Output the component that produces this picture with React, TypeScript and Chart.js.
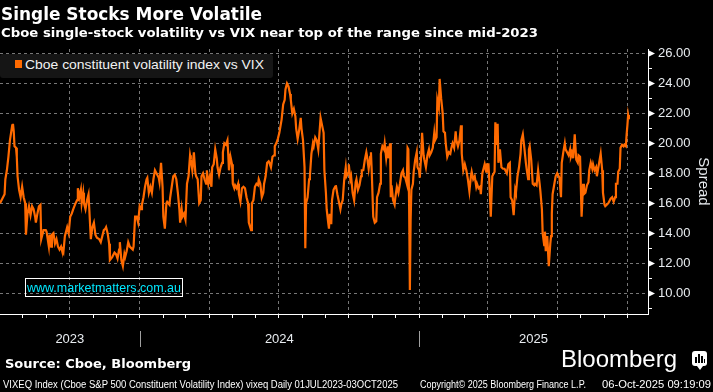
import React, { useEffect, useLayoutEffect, useRef } from 'react';
import { Chart, registerables } from 'chart.js';

Chart.register(...registerables);

// x values are calendar days counted from START (2023-07-01)
const START = Date.UTC(2023, 6, 1);
const dayOf = (y: number, m: number, d = 1) => (Date.UTC(y, m, d) - START) / 86400000;

const days2023 = [1, 5, 7, 8, 10, 12, 14, 17, 18, 19, 20, 22, 23, 24, 26, 28, 30, 32, 34, 35, 37, 39, 41, 43, 45, 47, 48, 50, 52, 54, 55, 57, 58, 61, 62, 65, 66, 68, 69, 71, 73, 75, 77, 79, 81, 82, 84, 86, 88, 89, 91, 93, 95, 97, 100, 102, 103, 105, 107, 108, 110, 111, 113, 115, 117, 118, 120, 122, 124, 126, 128, 131, 133, 135, 137, 139, 140, 142, 144, 145, 148, 151, 153, 155, 157, 158, 160, 162, 164, 165, 167, 169, 171, 173, 175, 176, 178, 180, 182];
const spread2023 = [16.0, 16.4, 16.6, 17.6, 18.2, 19.1, 20.2, 21.2, 21.3, 20.8, 19.8, 19.7, 19.1, 17.8, 16.9, 16.4, 17.1, 16.4, 16.0, 13.9, 15.3, 15.8, 15.2, 15.8, 15.6, 15.1, 14.7, 15.3, 15.8, 15.9, 13.6, 14.0, 14.2, 14.2, 14.1, 13.1, 13.9, 13.1, 13.9, 14.0, 13.3, 13.6, 13.1, 12.9, 13.1, 12.9, 12.7, 13.8, 14.2, 14.4, 14.0, 15.1, 15.3, 15.6, 16.0, 16.2, 17.0, 16.4, 16.9, 16.0, 16.7, 16.0, 15.6, 16.2, 16.6, 15.6, 13.6, 14.4, 14.7, 13.9, 13.7, 13.6, 13.4, 13.8, 14.2, 14.3, 14.4, 14.0, 13.3, 12.2, 12.4, 12.7, 12.6, 12.3, 12.9, 13.4, 12.2, 11.8, 12.6, 12.4, 12.8, 13.4, 13.1, 13.0, 12.9, 13.1, 15.1, 15.1, 14.7];

const days2024 = [184, 186, 187, 189, 191, 193, 194, 196, 198, 200, 202, 204, 206, 209, 210, 212, 214, 215, 217, 219, 220, 223, 224, 226, 228, 230, 232, 234, 236, 237, 239, 240, 242, 244, 246, 248, 250, 251, 253, 255, 257, 258, 260, 262, 264, 265, 267, 269, 271, 272, 274, 276, 278, 279, 281, 283, 285, 286, 288, 290, 292, 293, 295, 297, 299, 300, 301, 303, 305, 306, 308, 309, 311, 313, 314, 316, 318, 320, 322, 324, 326, 327, 330, 331, 333, 335, 337, 339, 340, 342, 344, 346, 347, 349, 351, 353, 354, 356, 358, 360, 361, 363, 365, 367, 368, 370, 372, 374, 375, 377, 379, 381, 382, 384, 386, 388, 389, 391, 393, 395, 396, 398, 400, 401, 402, 404, 406, 407, 409, 411, 412, 414, 416, 418, 419, 421, 423, 425, 426, 428, 429, 431, 432, 433, 435, 436, 438, 440, 441, 443, 445, 447, 448, 450, 452, 454, 455, 457, 458, 460, 461, 463, 465, 467, 468, 470, 472, 474, 475, 477, 479, 481, 482, 484, 486, 487, 488, 490, 492, 494, 495, 497, 499, 500, 502, 504, 505, 507, 509, 510, 512, 513, 514, 516, 518, 519, 521, 523, 525, 527, 529, 530, 532, 534, 535, 536, 537, 538, 539, 540, 542, 543, 545, 547, 548];
const spread2024 = [15.8, 15.6, 15.9, 16.4, 17.1, 17.6, 17.7, 16.7, 17.1, 16.7, 17.6, 18.2, 18.0, 17.7, 17.4, 18.7, 17.1, 15.1, 14.3, 16.0, 16.1, 15.9, 16.4, 17.1, 17.8, 17.9, 17.6, 16.7, 15.6, 14.7, 15.6, 15.1, 15.3, 14.9, 17.3, 17.8, 19.2, 18.9, 18.2, 19.4, 18.0, 17.8, 17.6, 16.0, 16.2, 17.8, 18.0, 17.6, 17.3, 18.2, 17.3, 17.8, 17.1, 18.4, 18.6, 19.6, 19.0, 18.4, 17.9, 18.4, 18.7, 19.4, 20.0, 19.9, 20.2, 19.3, 18.2, 19.1, 18.6, 17.3, 17.0, 17.2, 17.0, 17.3, 16.6, 16.1, 17.0, 17.1, 17.0, 16.4, 16.0, 14.7, 14.2, 16.0, 16.2, 17.1, 17.3, 17.2, 17.6, 17.3, 16.4, 16.7, 17.3, 17.8, 18.7, 18.8, 18.7, 18.4, 19.1, 19.2, 19.8, 20.0, 20.3, 20.7, 21.0, 21.6, 22.6, 22.9, 23.6, 24.0, 23.8, 23.3, 22.9, 22.0, 22.3, 21.8, 21.0, 20.3, 20.9, 21.7, 21.0, 20.2, 18.4, 13.0, 16.0, 16.4, 17.6, 17.8, 19.3, 20.0, 19.8, 20.4, 20.2, 19.6, 20.3, 21.7, 21.2, 20.7, 18.2, 16.7, 15.6, 14.7, 14.3, 15.3, 14.6, 16.2, 16.9, 17.1, 17.2, 16.6, 16.1, 15.6, 15.9, 16.2, 17.6, 18.4, 17.8, 18.0, 18.6, 17.6, 17.8, 16.7, 16.2, 17.4, 17.6, 16.9, 17.2, 17.8, 18.2, 18.2, 18.9, 19.4, 19.1, 18.3, 19.1, 19.4, 18.2, 15.1, 14.7, 14.8, 16.4, 16.7, 17.3, 19.3, 19.8, 19.6, 20.0, 19.0, 19.8, 19.0, 20.0, 16.4, 17.2, 16.2, 15.9, 16.4, 17.1, 16.7, 17.3, 18.0, 18.2, 17.8, 17.7, 17.3, 19.7, 19.6, 16.0, 10.2, 14.9, 16.9, 17.3, 18.1, 18.9, 19.4, 18.4];

const days2025 = [550, 551, 553, 554, 556, 557, 559, 561, 563, 564, 566, 568, 570, 571, 573, 574, 576, 577, 579, 581, 582, 584, 585, 587, 589, 591, 592, 594, 596, 598, 599, 601, 603, 605, 606, 608, 610, 612, 614, 616, 618, 619, 621, 623, 625, 626, 628, 630, 631, 633, 635, 636, 638, 639, 641, 642, 644, 646, 647, 649, 650, 652, 653, 654, 656, 658, 660, 662, 663, 665, 667, 669, 670, 672, 674, 676, 677, 679, 681, 683, 684, 686, 688, 690, 691, 693, 694, 695, 697, 699, 701, 702, 704, 706, 708, 709, 711, 712, 714, 715, 716, 718, 719, 720, 722, 723, 724, 725, 727, 729, 731, 732, 734, 736, 737, 739, 741, 742, 744, 746, 748, 749, 751, 752, 754, 756, 758, 759, 761, 763, 765, 766, 768, 770, 772, 773, 775, 777, 778, 780, 782, 783, 785, 787, 788, 790, 791, 793, 794, 796, 798, 800, 801, 803, 805, 807, 808, 810, 811, 813, 814, 816, 818, 819, 821, 822, 823, 824, 825];
const spread2025 = [18.2, 17.7, 19.3, 20.7, 19.2, 18.9, 18.4, 19.2, 19.6, 19.2, 19.4, 19.7, 20.7, 20.2, 20.4, 22.9, 22.4, 24.3, 23.0, 22.0, 20.8, 20.7, 20.0, 19.1, 19.4, 19.3, 19.6, 20.0, 19.7, 20.8, 20.2, 19.8, 20.2, 21.2, 19.3, 18.2, 18.6, 18.2, 17.6, 16.8, 17.8, 18.1, 17.6, 17.8, 17.1, 17.3, 17.0, 17.1, 16.6, 18.0, 18.4, 18.6, 18.1, 18.6, 18.6, 17.6, 15.1, 17.8, 17.9, 18.1, 21.4, 19.9, 21.3, 18.7, 19.6, 18.4, 18.3, 18.3, 18.2, 18.0, 18.6, 18.7, 16.4, 16.2, 15.2, 16.9, 16.7, 17.8, 18.4, 19.3, 20.2, 20.6, 19.7, 18.7, 18.3, 17.6, 19.6, 19.8, 18.9, 17.3, 17.2, 17.3, 17.2, 18.2, 17.3, 16.8, 15.6, 14.0, 13.2, 14.1, 12.8, 13.8, 12.8, 11.8, 13.3, 13.8, 15.3, 16.6, 17.2, 17.8, 18.0, 17.9, 17.7, 16.4, 18.7, 19.4, 20.0, 19.6, 19.4, 19.2, 19.6, 19.1, 19.4, 19.0, 20.6, 18.9, 18.7, 19.2, 19.1, 15.1, 17.3, 16.6, 16.7, 17.2, 17.4, 18.2, 18.7, 18.3, 18.6, 18.2, 18.4, 17.8, 18.4, 19.0, 19.3, 18.2, 16.7, 15.9, 15.8, 15.9, 16.0, 16.2, 16.3, 16.4, 16.1, 16.4, 17.3, 17.3, 18.1, 18.3, 19.7, 19.9, 19.8, 19.9, 19.8, 20.6, 21.2, 21.9, 21.6];

const allDays = [...days2023, ...days2024, ...days2025];
const allSpread = [...spread2023, ...spread2024, ...spread2025];

const SERIES_LABEL = 'Cboe constituent volatility index vs VIX';
const YEARS = [2023, 2024, 2025];
const X_MIN = 1;
const X_MAX = 850;
const Y_MIN = 8.6;
const Y_MAX = 26.3;
const Y_TICKS = [9, 10, 11, 12, 13, 14, 15, 16, 17, 18, 19, 20, 21, 22, 23, 24, 25, 26];

const ORANGE = '#ff6a00';
const GRID = 'rgba(140,140,140,0.85)';
const AXIS_TEXT = '#e8ecf0';
const SANS = "'Liberation Sans', Arial, sans-serif";
const DEJAVU = "'DejaVu Sans', sans-serif";

// monthly ticks, quarterly grid lines, year labels centred on the visible part of each year
const monthTicks: number[] = [];
const quarterTicks = new Set<number>();
for (let yy = 2023; yy <= 2025; yy++) {
  for (let m = 0; m < 12; m++) {
    const v = dayOf(yy, m);
    if (v > X_MIN && v < X_MAX) {
      monthTicks.push(v);
      if (m % 3 === 0) quarterTicks.add(v);
    }
  }
}
const yearStarts = [dayOf(2024, 0), dayOf(2025, 0)];
const yearMid = new Map<number, string>();
YEARS.forEach((yr) => {
  const a = Math.max(X_MIN, dayOf(yr, 0));
  const b = Math.min(X_MAX, dayOf(yr + 1, 0));
  yearMid.set((a + b) / 2, String(yr));
});
const xTickValues = [...monthTicks, ...Array.from(yearMid.keys())].sort((a, b) => a - b);

const decor = {
  id: 'decor',
  afterDraw(chart: any) {
    const { ctx, scales } = chart;
    const x = scales.x;
    const y = scales.y;
    ctx.save();
    ctx.fillStyle = '#ffffff';
    ctx.strokeStyle = '#ffffff';
    ctx.lineWidth = 1;
    const ax = y.left;
    Y_TICKS.forEach((v) => {
      const py = Math.round(y.getPixelForValue(v)) + 0.5;
      if (v % 2 === 0) {
        ctx.beginPath();
        ctx.moveTo(ax + 1, py - 3);
        ctx.lineTo(ax + 7, py);
        ctx.lineTo(ax + 1, py + 3);
        ctx.closePath();
        ctx.fill();
      } else {
        ctx.beginPath();
        ctx.moveTo(ax, py);
        ctx.lineTo(ax + 4, py);
        ctx.stroke();
      }
    });
    ctx.strokeStyle = '#a0a0a0';
    yearStarts.forEach((d) => {
      const px = Math.round(x.getPixelForValue(d)) + 0.5;
      ctx.beginPath();
      ctx.moveTo(px, x.top + 17);
      ctx.lineTo(px, x.top + 33);
      ctx.stroke();
    });
    ctx.restore();
  },
};

type FitProps = {
  text: string;
  x: number;
  baseline: number;
  width: number;
  size: number;
  family: string;
  weight?: string | number;
  color?: string;
};

function FitText({ text, x, baseline, width, size, family, weight = 'normal', color = '#ffffff' }: FitProps) {
  const ref = useRef<HTMLSpanElement>(null);
  useLayoutEffect(() => {
    const el = ref.current;
    if (!el) return;
    const fit = () => {
      el.style.transform = 'none';
      const w = el.getBoundingClientRect().width;
      if (w > 0) el.style.transform = `scaleX(${width / w})`;
    };
    fit();
    if ((document as any).fonts && (document as any).fonts.ready) (document as any).fonts.ready.then(fit);
  }, [text, width]);
  return (
    <span
      ref={ref}
      style={{
        position: 'absolute',
        left: x,
        top: baseline - 0.846 * size,
        fontFamily: family,
        fontSize: size,
        fontWeight: weight as any,
        color,
        lineHeight: `${size}px`,
        whiteSpace: 'nowrap',
        transformOrigin: '0 0',
      }}
    >
      {text}
    </span>
  );
}

export default function App() {
  const canvasRef = useRef<HTMLCanvasElement>(null);

  useEffect(() => {
    document.body.style.margin = '0';
    document.body.style.background = '#000';
    const canvas = canvasRef.current;
    if (!canvas) return;
    const chart = new Chart(canvas, {
      type: 'line',
      data: {
        datasets: [
          {
            label: SERIES_LABEL,
            data: allDays.map((d, i) => ({ x: d, y: allSpread[i] })),
            borderColor: ORANGE,
            backgroundColor: ORANGE,
            borderWidth: 2.2,
            pointRadius: 0,
            tension: 0,
            fill: false,
          },
        ],
      },
      options: {
        animation: false,
        responsive: false,
        maintainAspectRatio: false,
        layout: { padding: { top: 49, left: 0, right: 0, bottom: 0 } },
        plugins: {
          legend: { display: false },
          tooltip: { enabled: false },
          title: { display: false },
        },
        scales: {
          x: {
            type: 'linear',
            position: 'bottom',
            min: X_MIN,
            max: X_MAX,
            afterBuildTicks: (s: any) => {
              s.ticks = xTickValues.map((v) => ({ value: v }));
            },
            afterFit: (s: any) => {
              s.height = 78;
            },
            ticks: {
              autoSkip: false,
              maxRotation: 0,
              minRotation: 0,
              padding: 14,
              color: AXIS_TEXT,
              font: { family: SANS, size: 13 },
              callback: (v: any) => yearMid.get(v) ?? '',
            },
            grid: {
              color: (c: any) => (c.tick && quarterTicks.has(c.tick.value) ? GRID : 'transparent'),
              lineWidth: 1,
              drawTicks: true,
              tickLength: 4,
              tickWidth: 1,
              tickColor: (c: any) => (c.tick && yearMid.has(c.tick.value) ? 'transparent' : '#ffffff'),
            },
            border: { display: true, color: '#ffffff', width: 1, dash: [3, 3] },
          },
          y: {
            type: 'linear',
            position: 'right',
            min: Y_MIN,
            max: Y_MAX,
            afterBuildTicks: (s: any) => {
              s.ticks = Y_TICKS.map((v) => ({ value: v }));
            },
            afterFit: (s: any) => {
              s.width = 65;
            },
            ticks: {
              autoSkip: false,
              padding: 10,
              color: AXIS_TEXT,
              font: { family: SANS, size: 13 },
              callback: (v: any) => (Number(v) % 2 === 0 ? Number(v).toFixed(2) : ''),
            },
            grid: {
              color: (c: any) => (c.tick && c.tick.value % 2 === 0 ? GRID : 'transparent'),
              lineWidth: 1,
              drawTicks: false,
            },
            border: { display: true, color: '#ffffff', width: 1, dash: [3, 3] },
            title: {
              display: true,
              text: 'Spread',
              color: AXIS_TEXT,
              font: { family: SANS, size: 15 },
              padding: { top: 1, bottom: 0 },
            },
          },
        },
      } as any,
      plugins: [decor],
    });
    return () => chart.destroy();
  }, []);

  return (
    <div style={{ position: 'fixed', left: 0, top: 0, width: 713, height: 392, background: '#000', overflow: 'hidden' }}>
      <canvas ref={canvasRef} width={713} height={392} style={{ position: 'absolute', left: 0, top: 0, width: 713, height: 392 }} />
      <FitText text="Single Stocks More Volatile" x={1} baseline={20} width={261} size={17} family={DEJAVU} weight="bold" />
      <FitText text="Cboe single-stock volatility vs VIX near top of the range since mid-2023" x={1} baseline={37} width={537} size={13} family={DEJAVU} weight="bold" />
      <div style={{ position: 'absolute', left: 0, top: 54, width: 273, height: 24, background: '#151515', borderRadius: 3 }} />
      <div style={{ position: 'absolute', left: 15, top: 60, width: 7, height: 8, background: ORANGE }} />
      <FitText text={SERIES_LABEL} x={25} baseline={69} width={239} size={13} family={SANS} color="#f2f2f2" />
      <div style={{ position: 'absolute', left: 25, top: 278, width: 156, height: 17, border: '1px solid #ffffff' }} />
      <FitText text="www.marketmatters.com.au" x={27} baseline={292} width={154} size={13} family={SANS} color="#00e8ff" />
      <FitText text="Source: Cboe, Bloomberg" x={5} baseline={368} width={186} size={13} family={DEJAVU} weight="bold" />
      <FitText text="Bloomberg" x={561} baseline={367} width={116} size={24} family={SANS} />
      <div style={{ position: 'absolute', left: 692, top: 351, width: 15, height: 15, background: '#fff', borderRadius: 3 }}>
        <div style={{ position: 'absolute', left: 3, top: 6, width: 2, height: 6, background: '#000' }} />
        <div style={{ position: 'absolute', left: 6, top: 3, width: 2, height: 9, background: '#000' }} />
        <div style={{ position: 'absolute', left: 9, top: 5, width: 2, height: 7, background: '#000' }} />
        <div style={{ position: 'absolute', left: 12, top: 8, width: 1, height: 4, background: '#000' }} />
      </div>
      <div style={{ position: 'absolute', left: 697, top: 366, width: 0, height: 0, borderLeft: '3px solid transparent', borderRight: '3px solid transparent', borderTop: '4px solid #fff' }} />
      <FitText text="VIXEQ Index (Cboe S&P 500 Constituent Volatility Index) vixeq Daily 01JUL2023-03OCT2025" x={3} baseline={388} width={395} size={10} family={SANS} />
      <FitText text="Copyright© 2025 Bloomberg Finance L.P." x={420} baseline={388} width={166} size={10} family={SANS} />
      <FitText text="06-Oct-2025 09:19:09" x={602} baseline={388} width={109} size={10} family={SANS} />
    </div>
  );
}
